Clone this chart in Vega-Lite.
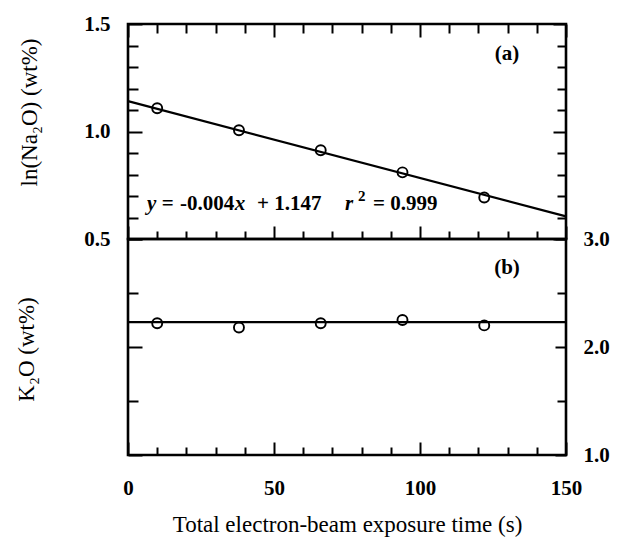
{
  "$schema": "https://vega.github.io/schema/vega-lite/v6.json",
  "padding": {"left": 13, "top": 11, "right": 5, "bottom": 5},
  "background": "white",
  "datasets": {
    "na": [{"t": 10, "v": 1.108}, {"t": 38, "v": 1.006}, {"t": 66, "v": 0.913}, {"t": 94, "v": 0.81}, {"t": 122, "v": 0.693}],
    "naFit": [{"t": 0, "v": 1.141}, {"t": 150, "v": 0.605}],
    "k": [{"t": 10, "v": 2.22}, {"t": 38, "v": 2.18}, {"t": 66, "v": 2.22}, {"t": 94, "v": 2.25}, {"t": 122, "v": 2.2}],
    "kFit": [{"t": 0, "v": 2.23}, {"t": 150, "v": 2.23}],
    "one": [{}]
  },
  "spacing": 0,
  "bounds": "flush",
  "vconcat": [
    {
      "width": 438,
      "height": 215,
      "resolve": {"axis": {"x": "independent", "y": "independent"}},
      "layer": [
        {
          "data": {"name": "na"},
          "mark": {"type": "point", "filled": false, "color": "black", "size": 100, "strokeWidth": 1.9, "opacity": 1},
          "encoding": {
            "x": {"field": "t", "type": "quantitative", "scale": {"domain": [0, 150], "nice": false, "zero": false},
              "axis": {"orient": "bottom", "values": [0,10,20,30,40,50,60,70,80,90,100,110,120,130,140,150], "labels": false, "title": null, "domain": false,
                "tickSize": {"condition": {"test": "datum.value % 50 === 0", "value": -13}, "value": -8}}},
            "y": {"field": "v", "type": "quantitative", "scale": {"domain": [0.5, 1.5], "nice": false, "zero": false},
              "axis": {"orient": "left", "values": [0.5,0.6,0.7,0.8,0.9,1.0,1.1,1.2,1.3,1.4,1.5], "domain": false,
                "labelExpr": "round(datum.value*10) % 5 === 0 ? format(datum.value, '.1f') : ''",
                "labelPadding": 32, "labelFlush": false, "labelOverlap": false,
                "tickSize": {"condition": {"test": "round(datum.value*10) % 5 === 0", "value": -14}, "value": -10},
                "title": "ln(Na₂O) (wt%)", "titleX": -99, "titleY": 88, "titleBaseline": "middle"}}
          }
        },
        {
          "data": {"name": "naFit"},
          "mark": {"type": "line", "color": "black", "strokeWidth": 2.2},
          "encoding": {
            "x": {"field": "t", "type": "quantitative", "scale": {"domain": [0, 150], "nice": false, "zero": false},
              "axis": {"orient": "top", "values": [0,10,20,30,40,50,60,70,80,90,100,110,120,130,140,150], "labels": false, "title": null, "domain": false,
                "tickSize": {"condition": {"test": "datum.value % 50 === 0", "value": -13}, "value": -9}}},
            "y": {"field": "v", "type": "quantitative", "scale": {"domain": [0.5, 1.5], "nice": false, "zero": false},
              "axis": {"orient": "right", "values": [0.5,0.6,0.7,0.8,0.9,1.0,1.1,1.2,1.3,1.4,1.5], "labels": false, "title": null, "domain": false,
                "tickSize": {"condition": {"test": "round(datum.value*10) % 5 === 0", "value": -13}, "value": -9}}}
          }
        },
        {
          "data": {"name": "one"},
          "mark": {"type": "text", "text": "(a)", "font": "Liberation Serif", "fontSize": 21, "fontWeight": "bold", "align": "center", "baseline": "middle", "color": "black"},
          "encoding": {
            "x": {"datum": 129.8, "type": "quantitative", "axis": null, "scale": {"domain": [0, 150], "nice": false, "zero": false}},
            "y": {"datum": 1.362, "type": "quantitative", "axis": null, "scale": {"domain": [0.5, 1.5], "nice": false, "zero": false}}
          }
        },
        {
          "data": {"name": "one"},
          "mark": {"type": "text", "text": "y", "font": "Liberation Serif", "fontSize": 21, "fontWeight": "bold", "fontStyle": "italic", "align": "left", "baseline": "alphabetic", "color": "black"},
          "encoding": {
            "x": {"datum": 6.5, "type": "quantitative", "axis": null, "scale": {"domain": [0, 150], "nice": false, "zero": false}},
            "y": {"datum": 0.635, "type": "quantitative", "axis": null, "scale": {"domain": [0.5, 1.5], "nice": false, "zero": false}}
          }
        },
        {
          "data": {"name": "one"},
          "mark": {"type": "text", "text": "=", "font": "Liberation Serif", "fontSize": 21, "fontWeight": "bold", "align": "left", "baseline": "alphabetic", "color": "black"},
          "encoding": {
            "x": {"datum": 11.6, "type": "quantitative", "axis": null, "scale": {"domain": [0, 150], "nice": false, "zero": false}},
            "y": {"datum": 0.635, "type": "quantitative", "axis": null, "scale": {"domain": [0.5, 1.5], "nice": false, "zero": false}}
          }
        },
        {
          "data": {"name": "one"},
          "mark": {"type": "text", "text": "-0.004", "font": "Liberation Serif", "fontSize": 21, "fontWeight": "bold", "align": "left", "baseline": "alphabetic", "color": "black"},
          "encoding": {
            "x": {"datum": 17.8, "type": "quantitative", "axis": null, "scale": {"domain": [0, 150], "nice": false, "zero": false}},
            "y": {"datum": 0.635, "type": "quantitative", "axis": null, "scale": {"domain": [0.5, 1.5], "nice": false, "zero": false}}
          }
        },
        {
          "data": {"name": "one"},
          "mark": {"type": "text", "text": "x", "font": "Liberation Serif", "fontSize": 21, "fontWeight": "bold", "fontStyle": "italic", "align": "left", "baseline": "alphabetic", "color": "black"},
          "encoding": {
            "x": {"datum": 36.6, "type": "quantitative", "axis": null, "scale": {"domain": [0, 150], "nice": false, "zero": false}},
            "y": {"datum": 0.635, "type": "quantitative", "axis": null, "scale": {"domain": [0.5, 1.5], "nice": false, "zero": false}}
          }
        },
        {
          "data": {"name": "one"},
          "mark": {"type": "text", "text": "+ 1.147", "font": "Liberation Serif", "fontSize": 21, "fontWeight": "bold", "align": "left", "baseline": "alphabetic", "color": "black"},
          "encoding": {
            "x": {"datum": 44.2, "type": "quantitative", "axis": null, "scale": {"domain": [0, 150], "nice": false, "zero": false}},
            "y": {"datum": 0.635, "type": "quantitative", "axis": null, "scale": {"domain": [0.5, 1.5], "nice": false, "zero": false}}
          }
        },
        {
          "data": {"name": "one"},
          "mark": {"type": "text", "text": "r", "font": "Liberation Serif", "fontSize": 21, "fontWeight": "bold", "fontStyle": "italic", "align": "left", "baseline": "alphabetic", "color": "black"},
          "encoding": {
            "x": {"datum": 74.3, "type": "quantitative", "axis": null, "scale": {"domain": [0, 150], "nice": false, "zero": false}},
            "y": {"datum": 0.635, "type": "quantitative", "axis": null, "scale": {"domain": [0.5, 1.5], "nice": false, "zero": false}}
          }
        },
        {
          "data": {"name": "one"},
          "mark": {"type": "text", "text": "2", "font": "Liberation Serif", "fontSize": 15, "fontWeight": "bold", "align": "left", "baseline": "alphabetic", "dy": -9, "color": "black"},
          "encoding": {
            "x": {"datum": 78.8, "type": "quantitative", "axis": null, "scale": {"domain": [0, 150], "nice": false, "zero": false}},
            "y": {"datum": 0.635, "type": "quantitative", "axis": null, "scale": {"domain": [0.5, 1.5], "nice": false, "zero": false}}
          }
        },
        {
          "data": {"name": "one"},
          "mark": {"type": "text", "text": "= 0.999", "font": "Liberation Serif", "fontSize": 21, "fontWeight": "bold", "align": "left", "baseline": "alphabetic", "color": "black"},
          "encoding": {
            "x": {"datum": 83.9, "type": "quantitative", "axis": null, "scale": {"domain": [0, 150], "nice": false, "zero": false}},
            "y": {"datum": 0.635, "type": "quantitative", "axis": null, "scale": {"domain": [0.5, 1.5], "nice": false, "zero": false}}
          }
        }
      ]
    },
    {
      "width": 438,
      "height": 216,
      "resolve": {"axis": {"x": "independent", "y": "independent"}},
      "layer": [
        {
          "data": {"name": "k"},
          "mark": {"type": "point", "filled": false, "color": "black", "size": 100, "strokeWidth": 1.9, "opacity": 1},
          "encoding": {
            "x": {"field": "t", "type": "quantitative", "scale": {"domain": [0, 150], "nice": false, "zero": false},
              "axis": {"orient": "bottom", "values": [0,10,20,30,40,50,60,70,80,90,100,110,120,130,140,150], "domain": false,
                "labelExpr": "datum.value % 50 === 0 ? datum.label : ''", "labelPadding": 35, "labelFlush": false, "labelOverlap": false,
                "tickSize": {"condition": {"test": "datum.value % 50 === 0", "value": -13}, "value": -8},
                "title": "Total electron-beam exposure time (s)", "titleY": 76, "titleBaseline": "alphabetic", "titleFontSize": 23}},
            "y": {"field": "v", "type": "quantitative", "scale": {"domain": [1, 3], "nice": false, "zero": false},
              "axis": {"orient": "left", "values": [1, 1.5, 2, 2.5, 3], "labels": false, "domain": false,
                "tickSize": {"condition": {"test": "datum.value % 1 === 0", "value": -14}, "value": -10},
                "title": "K₂O (wt%)", "titleX": -102, "titleY": 110, "titleBaseline": "middle"}}
          }
        },
        {
          "data": {"name": "kFit"},
          "mark": {"type": "line", "color": "black", "strokeWidth": 2.2},
          "encoding": {
            "x": {"field": "t", "type": "quantitative", "scale": {"domain": [0, 150], "nice": false, "zero": false}, "axis": null},
            "y": {"field": "v", "type": "quantitative", "scale": {"domain": [1, 3], "nice": false, "zero": false},
              "axis": {"orient": "right", "values": [1, 1.5, 2, 2.5, 3], "domain": false,
                "labelExpr": "datum.value % 1 === 0 ? format(datum.value, '.1f') : ''", "labelPadding": 28, "labelFlush": false, "labelOverlap": false,
                "tickSize": {"condition": {"test": "datum.value % 1 === 0", "value": -11}, "value": -9},
                "title": null}}
          }
        },
        {
          "data": {"name": "one"},
          "mark": {"type": "text", "text": "(b)", "font": "Liberation Serif", "fontSize": 21, "fontWeight": "bold", "align": "center", "baseline": "middle", "color": "black"},
          "encoding": {
            "x": {"datum": 129.8, "type": "quantitative", "axis": null, "scale": {"domain": [0, 150], "nice": false, "zero": false}},
            "y": {"datum": 2.73, "type": "quantitative", "axis": null, "scale": {"domain": [1, 3], "nice": false, "zero": false}}
          }
        }
      ]
    }
  ],
  "config": {
    "font": "Liberation Serif",
    "view": {"stroke": "black", "strokeWidth": 2.6},
    "axis": {
      "grid": false,
      "labelFont": "Liberation Serif", "labelFontSize": 21, "labelFontWeight": "bold", "labelColor": "black",
      "titleFont": "Liberation Serif", "titleFontSize": 23, "titleFontWeight": "normal", "titleColor": "black",
      "tickColor": "black", "tickWidth": 2, "domainColor": "black"
    }
  }
}
